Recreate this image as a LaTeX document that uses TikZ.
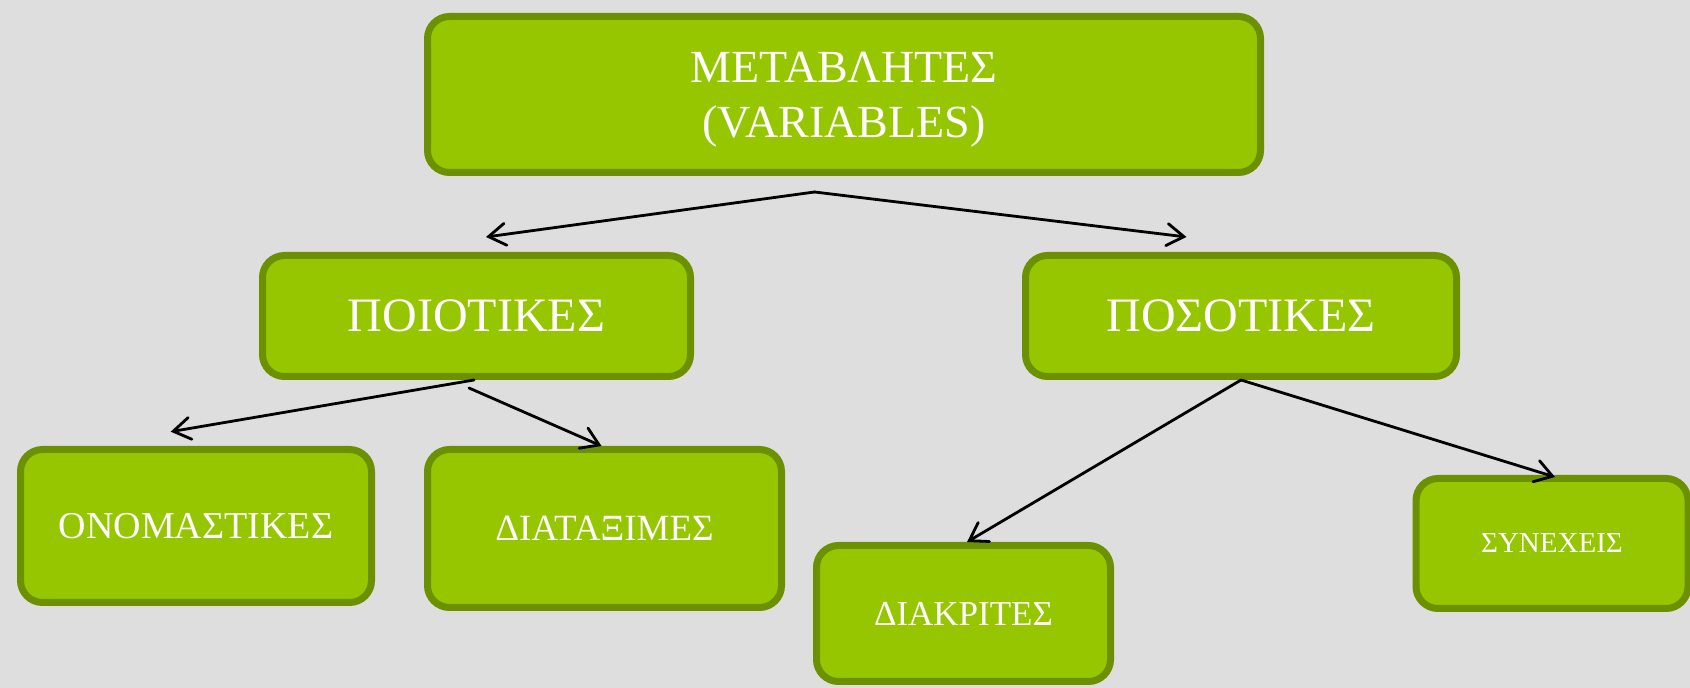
\documentclass[tikz,border=0pt]{standalone}
\usepackage{fontspec}
\setmainfont{Liberation Serif}
\usetikzlibrary{arrows.meta}
\definecolor{bgcol}{HTML}{DEDEDE}
\definecolor{boxfill}{HTML}{95C600}
\definecolor{boxline}{HTML}{6C9100}
\begin{document}
\begin{tikzpicture}[x=1pt,y=1pt,
  gbox/.style={draw=boxline, fill=boxfill, line width=7pt, rounded corners=22pt,
    inner sep=0pt, text=white, align=center},
  conn/.style={draw=black, line width=2.8pt, line cap=round,
    -{Straight Barb[length=17pt,width=22pt,line cap=round]}}]
\fill[bgcol] (0,0) rectangle (1690,688);
\useasboundingbox (0,0) rectangle (1690,688);
\node[gbox, minimum width=833pt, minimum height=156pt, font=\fontsize{46}{55}\selectfont] (top) at (844,593.5) {\rule{0pt}{40pt}ΜΕΤΑΒΛΗΤΕΣ\\(VARIABLES)};
\node[gbox, minimum width=428pt, minimum height=121pt, font=\fontsize{48}{55}\selectfont] (qual) at (476.5,372) {ΠΟΙΟΤΙΚΕΣ};
\node[gbox, minimum width=431pt, minimum height=121pt, font=\fontsize{48}{55}\selectfont] (quant) at (1241,372) {ΠΟΣΟΤΙΚΕΣ};
\node[gbox, minimum width=351pt, minimum height=153pt, font=\fontsize{38}{44}\selectfont] (onom) at (196,162) {ΟΝΟΜΑΣΤΙΚΕΣ};
\node[gbox, minimum width=354pt, minimum height=158pt, font=\fontsize{37}{44}\selectfont] (diat) at (604.5,159.5) {ΔΙΑΤΑΞΙΜΕΣ};
\node[gbox, minimum width=294pt, minimum height=136pt, font=\fontsize{35}{42}\selectfont] (diak) at (963.5,74.5) {ΔΙΑΚΡΙΤΕΣ};
\node[gbox, minimum width=272pt, minimum height=130pt, font=\fontsize{29}{35}\selectfont] (syn) at (1552,144.5) {ΣΥΝΕΧΕΙΣ};
\coordinate (t0) at (814.5,496);
\draw[conn] (t0) -- ([shift={(9.5,15)}]qual.north);
\draw[conn] (t0) -- ([shift={(-54.5,15)}]quant.north);
\draw[conn] ([xshift=-2.5pt]qual.south) -- ([shift={(-25.3,14.3)}]onom.north);
\draw[conn] ([shift={(-7.5,-8)}]qual.south) -- ([xshift=-3pt]diat.north);
\draw[conn] (quant.south) -- ([xshift=3.5pt]diak.north);
\draw[conn] (quant.south) -- ([shift={(3,-2)}]syn.north);
\end{tikzpicture}
\end{document}
